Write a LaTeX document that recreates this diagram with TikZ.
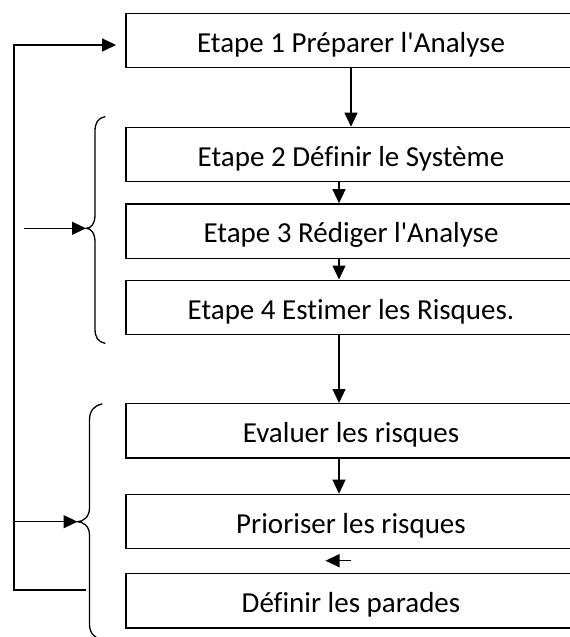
\documentclass[tikz,border=0pt]{standalone}
\usepackage{fontspec}
\setmainfont{Carlito}[Ligatures={TeXOff,NoCommon}]
\usetikzlibrary{arrows.meta}
\begin{document}
\begin{tikzpicture}[x=1pt,y=-1pt,
  stepbox/.style={draw, line width=1.3pt, minimum width=450pt, minimum height=54.3pt, inner sep=0pt, text height=23.6pt, text depth=0pt, font=\fontsize{29}{33}\selectfont},
  arr/.style={line width=1.3pt, -{Triangle[length=14pt,width=13pt]}},
  bracestyle/.style={line width=1.3pt, line join=round, line cap=round}]
\useasboundingbox (0,0) rectangle (570,637);
\clip (0,0) rectangle (570,637);
\node[stepbox] (b1) at (351,40.5) {Etape 1 Préparer l'Analyse};
\node[stepbox] (b2) at (351,154.5) {Etape 2 Définir le Système};
\node[stepbox] (b3) at (351,231) {Etape 3 Rédiger l'Analyse};
\node[stepbox] (b4) at (351,307.3) {Etape 4 Estimer les Risques.};
\node[stepbox] (b5) at (351,430.8) {Evaluer les risques};
\node[stepbox] (b6) at (351,521.5) {Prioriser les risques};
\node[stepbox] (b7) at (351,600.7) {Définir les parades};
% arrows between boxes
\draw[arr] (b1.south) -- (b2.north);
\draw[arr] ([xshift=-12pt]b2.south) -- ([xshift=-12pt]b3.north);
\draw[arr] ([xshift=-12pt]b3.south) -- ([xshift=-12pt]b4.north);
\draw[arr] ([xshift=-12pt]b4.south) -- ([xshift=-12pt]b5.north);
\draw[arr] ([xshift=-12pt]b5.south) -- ([xshift=-12pt]b6.north);
\coordinate (sa) at (351,560.7);
\coordinate (sb) at (325.5,560.7);
\draw[arr] (sa) -- (sb);
% braces
\coordinate (t1) at (86,228.3);
\coordinate (t2) at (77.5,521.7);
\draw[bracestyle] (105,116.7) .. controls (98,118) and (95,123) .. (95,131)
  -- (95,215) .. controls (95,224) and (91,228.3) .. (t1)
  .. controls (91,228.3) and (95,233) .. (95,242)
  -- (95,329) .. controls (95,337) and (98,342) .. (105,343.3);
\draw[bracestyle] (102,404) .. controls (94,405.5) and (89.5,411) .. (89.5,420)
  -- (89.5,508) .. controls (89.5,517) and (83,521.7) .. (t2)
  .. controls (83,521.7) and (89.5,526) .. (89.5,535)
  -- (89.5,624) .. controls (89.5,633) and (94,638) .. (102,639.4);
% arrows into braces
\coordinate (a1) at (23.6,228.3);
\draw[arr] (a1) -- (t1);
\coordinate (fm) at (14,521.7);
\draw[arr] (fm) -- (t2);
% feedback loop
\coordinate (fb) at (86,590);
\coordinate (fl) at (14,590);
\coordinate (fu) at (14,45);
\draw[arr, shorten >=9.3pt] (fb) -- (fl) -- (fu) -- (fu -| b1.west);
\end{tikzpicture}
\end{document}
